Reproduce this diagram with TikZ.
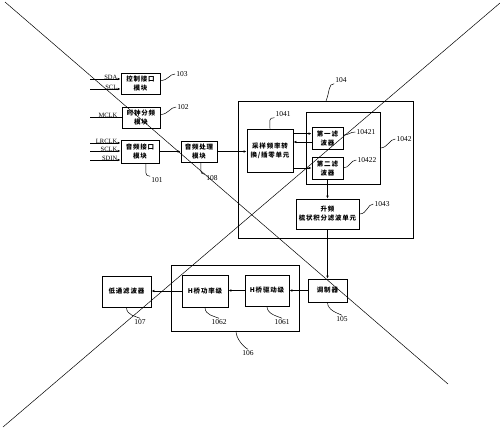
\documentclass[tikz,border=0pt]{standalone}
\usepackage{fontspec}
\setmainfont{Liberation Serif}
\newfontfamily\cjk{Noto Sans CJK SC}[LetterSpace=12]
\usepackage{tikz}
\usetikzlibrary{arrows.meta}
\usetikzlibrary{positioning}
\tikzstyle{block}=[draw,line width=0.8pt,fill=white,inner sep=0pt,align=center,font=\cjk\bfseries\fontsize{6.5}{9}\selectfont]
\tikzstyle{frame}=[draw,line width=0.8pt]
\tikzstyle{num}=[inner sep=1pt,font=\fontsize{7.5}{8}\selectfont]
\tikzstyle{sig}=[inner sep=0.5pt,font=\fontsize{6.5}{7}\selectfont]
\tikzstyle{link}=[line width=0.7pt,-{Latex[length=3pt,width=2.6pt]}]
\tikzstyle{lead}=[line width=0.5pt]

\begin{document}
\begin{tikzpicture}[x=1pt,y=-1pt]
\useasboundingbox (0,0) rectangle (500,429);

% outer frames
\draw[frame] (238,101) rectangle (413,238);
\draw[frame] (306,112) rectangle (380,184);
\draw[frame] (171,265) rectangle (299,331);

\node [block,minimum width=39pt,minimum height=21pt] (ctrl) at (140.5,83.5) {控制接口\\模块};
\node [block,minimum width=38pt,minimum height=21pt] (clk) at (141,117.5) {时钟分频\\模块};
\node [block,minimum width=38pt,minimum height=23pt] (aif) at (140,151.5) {音频接口\\模块};
\node [block,minimum width=36pt,minimum height=21pt] (proc) at (199,151.5) {音频处理\\模块};
\node [block,minimum width=46pt,minimum height=43pt] (src) at (270,150.5) {采样频率转\\换/插零单元};
\node [block,minimum width=31pt,minimum height=22pt] (fa) at (327.5,138) {第一滤\\波器};
\node [block,minimum width=31pt,minimum height=22pt] (fb) at (327.5,168) {第二滤\\波器};
\node [block,minimum width=63pt,minimum height=30pt] (cic) at (327.5,214) {升频\\梳状积分滤波单元};
\node [block,minimum width=39pt,minimum height=23pt] (mod) at (327.5,290.5) {调制器};
\node [block,minimum width=44pt,minimum height=31pt] (drv) at (267,290.5) {H桥驱动级};
\node [block,minimum width=46pt,minimum height=32pt] (pwr) at (205,291) {H桥功率级};
\node [block,minimum width=49pt,minimum height=31pt] (lpf) at (126.5,291.5) {低通滤波器};

% input signals
\foreach \nm/\txt/\y in {sda/SDA/79,scl/SCL/89,lrclk/LRCLK/143,sclk/SCLK/151,sdin/SDIN/160}{
  \coordinate (\nm) at (90,\y);
  \node [sig,anchor=south east] at (118,\y+1) {\txt};
}
\coordinate (mclk) at (90,117);
\node [sig,anchor=south east] at (118,118) {MCLK};
\draw[link] (sda) -- (sda -| ctrl.west);
\draw[link] (scl) -- (scl -| ctrl.west);
\draw[lead,line width=0.7pt] (mclk) -- (mclk -| clk.west);
\draw[link] (lrclk) -- (lrclk -| aif.west);
\draw[link] (sclk) -- (sclk -| aif.west);
\draw[link] (sdin) -- (sdin -| aif.west);

% signal path
\draw[link] (aif.east) -- (proc.west);
\draw[link] (proc.east) -- (proc.east -| src.west);
\draw[link] ([yshift=-5pt]src.north east) -- ([yshift=-5pt]src.north east -| fa.west);
\draw[link] ([yshift=-4pt]fa.west) -- ([yshift=-4pt]fa.west -| src.east);
\draw[link] (fb.west -| src.east) -- (fb.west);
\draw[link] (fb.south) -- (cic.north);
\draw[link] (cic.south) -- (mod.north);
\draw[link] (mod.west) -- (mod.west -| drv.east);
\draw[link] (drv.west) -- (drv.west -| pwr.east);
\draw[link] (pwr.west) -- (pwr.west -| lpf.east);

% reference numbers
\node [num] (n103) at (182,74) {103};
\node [num] (n102) at (183,107) {102};
\node [num] (n101) at (157,180) {101};
\node [num] (n108) at (212,178) {108};
\node [num] (n104) at (341,80) {104};
\node [num] (n1041) at (283,114) {1041};
\node [num] (n10421) at (366,132) {10421};
\node [num] (n10422) at (367,160) {10422};
\node [num] (n1042) at (404,139) {1042};
\node [num] (n1043) at (382,204) {1043};
\node [num] (n105) at (342,319) {105};
\node [num] (n106) at (248,353) {106};
\node [num] (n1062) at (219,322) {1062};
\node [num] (n1061) at (282,322) {1061};
\node [num] (n107) at (140,322) {107};

\draw[lead] ([yshift=3pt]ctrl.east) .. controls +(8,0) and +(-6,0) .. (n103.west);
\draw[lead] ([yshift=3pt]clk.east) .. controls +(8,0) and +(-6,0) .. (n102.west);
\draw[lead] ([xshift=6pt]aif.south) .. controls +(0,8) and +(-6,0) .. (n101.north west);
\draw[lead] ([xshift=2pt]proc.south) .. controls +(0,8) and +(-6,0) .. (n108.north west);
\draw[lead] (326,101) .. controls +(4,-10) and +(-6,0) .. (n104.south west);
\draw[lead] ([xshift=0pt]src.north) .. controls +(0,-8) and +(-6,0) .. (n1041.south west);
\draw[lead] ([yshift=3pt]fa.east) .. controls +(6,0) and +(-6,0) .. (n10421.west);
\draw[lead] (fb.east) .. controls +(6,0) and +(-6,0) .. (n10422.west);
\draw[lead] (380,148) .. controls +(8,0) and +(-6,0) .. (n1042.west);
\draw[lead] (cic.east) .. controls +(8,0) and +(-6,0) .. (n1043.west);
\draw[lead] (mod.south) .. controls +(0,8) and +(-4,-2) .. (n105.north);
\draw[lead] (236,331) .. controls +(0,8) and +(-4,-2) .. (n106.north);
\draw[lead] (pwr.south) .. controls +(0,8) and +(-4,-2) .. (n1062.north);
\draw[lead] (drv.south) .. controls +(0,8) and +(-4,-2) .. (n1061.north);
\draw[lead] (lpf.south) .. controls +(0,8) and +(-4,-2) .. (n107.north);

% crossing lines
\draw[line width=0.5pt] (5,2) -- (448,384);
\draw[line width=0.5pt] (500,3) -- (3,427);
\end{tikzpicture}
\end{document}
